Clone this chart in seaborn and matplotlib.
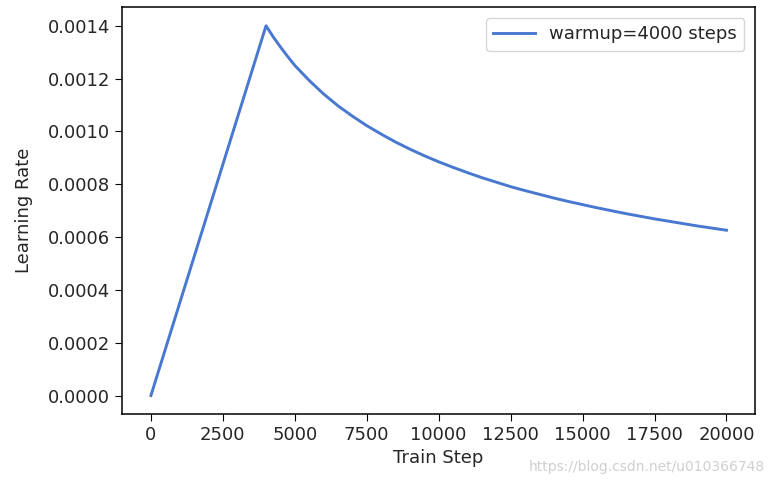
import matplotlib
matplotlib.use("Agg")
import matplotlib.pyplot as plt
import seaborn as sns
import pandas as pd

# valeurs (pas d'entrainement, learning rate)
steps = [0, 4000, 4250, 4500, 4750, 5000, 5500, 6000, 6500, 7000, 7500,
         8000, 8500, 9000, 9500, 10000, 10500, 11000, 11500, 12000, 12500,
         13000, 13500, 14000, 14500, 15000, 15500, 16000, 16500, 17000,
         17500, 18000, 18500, 19000, 19500, 20000]
lrates = [0.0, 0.00140, 0.001358, 0.00132, 0.001284, 0.00125, 0.001193,
          0.001142, 0.001097, 0.001058, 0.001022, 0.00099, 0.00096, 0.000933,
          0.000908, 0.000885, 0.000864, 0.000844, 0.000825, 0.000808,
          0.000791, 0.000776, 0.000762, 0.000748, 0.000735, 0.000723,
          0.000711, 0.0007, 0.000689, 0.000679, 0.000669, 0.00066, 0.000651,
          0.000642, 0.000634, 0.000626]
label = "warmup=4000 steps"

df = pd.DataFrame({"Train Step": steps, "Learning Rate": lrates, "serie": label})

sns.set_palette("muted")
plt.rcParams["font.size"] = 13
plt.rcParams["text.color"] = "#262626"
plt.rcParams["axes.labelcolor"] = "#262626"
plt.rcParams["xtick.labelcolor"] = "#262626"
plt.rcParams["ytick.labelcolor"] = "#262626"
plt.rcParams["axes.linewidth"] = 1.1
fig, ax = plt.subplots(figsize=(7.73, 4.86), dpi=100)
sns.lineplot(data=df, x="Train Step", y="Learning Rate", hue="serie", ax=ax,
             linewidth=2.1)
leg = ax.legend(title=None, loc="upper right", handlelength=2.3,
                borderaxespad=0.6)
ax.set_xticks(range(0, 20001, 2500))
ax.set_ylim(-0.00007, 0.00147)
ax.tick_params(labelsize=13, length=5)
ax.set_ylabel("Learning Rate", labelpad=11)
fig.subplots_adjust(left=0.158, right=0.977, top=0.985, bottom=0.148)
fig.text(0.99, 0.03, "https://blog.csdn.net/u010366748", ha="right",
         color="#d0d0d0", fontsize=10, family="Liberation Sans Narrow")
fig.savefig("out.png")
